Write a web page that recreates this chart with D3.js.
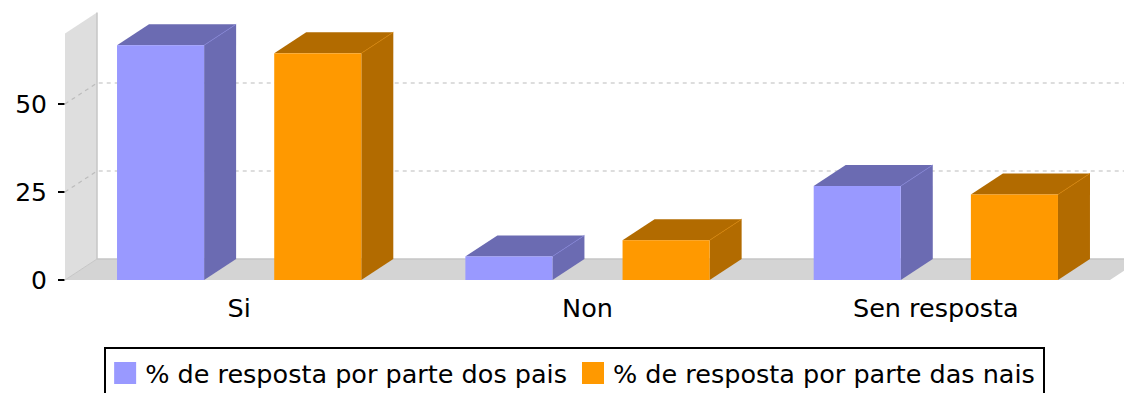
<!DOCTYPE html>
<html>
<head>
<meta charset="utf-8">
<script src="https://cdn.jsdelivr.net/npm/d3@7"></script>
<style>
  html, body { margin: 0; padding: 0; background: #ffffff; }
  svg { display: block; }
  text { font-family: "DejaVu Sans", "Liberation Sans", sans-serif; fill: #000; }
</style>
</head>
<body>
<svg id="chart" width="1124" height="393"></svg>
<script>
// Survey answers, percentage per category
const categories = ["Si", "Non", "Sen resposta"];
const seriesNames = ["% de resposta por parte dos pais", "% de resposta por parte das nais"];
const paisValues = [66.7, 6.7, 26.7];
const naisValues = [64.4, 11.3, 24.3];
const yTicks = [0, 25, 50];

const frontColors = ["#9999ff", "#ff9900"];
const sideColors = ["#6b6bb2", "#b26b00"];

const W = 1124, H = 393;
const depthX = 32, depthY = 21;          // 3D extrusion offset
const plot = { left: 65, right: 1110, top: 33.6, bottom: 280 };

const svg = d3.select("#chart");

const x0 = d3.scaleBand().domain(categories).range([plot.left, plot.right]).padding(0);
const x1 = d3.scaleBand().domain(d3.range(seriesNames.length))
  .range([0, x0.bandwidth()]).paddingInner(0.446).paddingOuter(0.331);
const y = d3.scaleLinear().domain([0, 70]).range([plot.bottom, plot.top]);

const series = [paisValues, naisValues];

// Left wall
svg.append("polygon")
  .attr("points", [[plot.left, plot.top], [plot.left + depthX, plot.top - depthY],
                   [plot.left + depthX, plot.bottom - depthY], [plot.left, plot.bottom]].join(" "))
  .attr("fill", "#dedede");
// Floor
svg.append("polygon")
  .attr("points", [[plot.left, plot.bottom], [plot.left + depthX, plot.bottom - depthY],
                   [plot.right + depthX, plot.bottom - depthY], [plot.right, plot.bottom]].join(" "))
  .attr("fill", "#d4d4d4");
// Wall edges
svg.append("line")
  .attr("x1", plot.left + depthX).attr("x2", plot.left + depthX)
  .attr("y1", plot.top - depthY).attr("y2", plot.bottom - depthY)
  .attr("stroke", "#c6c6c6").attr("stroke-width", 1.5);
svg.append("line")
  .attr("x1", plot.left + depthX).attr("x2", plot.right + depthX)
  .attr("y1", plot.bottom - depthY).attr("y2", plot.bottom - depthY)
  .attr("stroke", "#c6c6c6").attr("stroke-width", 1.5);
svg.append("line")
  .attr("x1", plot.left).attr("x2", plot.left + depthX)
  .attr("y1", plot.bottom).attr("y2", plot.bottom - depthY)
  .attr("stroke", "#c6c6c6").attr("stroke-width", 1);

// Gridlines: slanted across the left wall, then flat along the back plane
const grid = svg.append("g").attr("fill", "none")
  .attr("stroke", "#bcbcbc").attr("stroke-width", 1.2).attr("stroke-dasharray", "4,4");
yTicks.filter(t => t > 0).forEach(t => {
  grid.append("path")
    .attr("d", `M${plot.left},${y(t)}L${plot.left + depthX},${y(t) - depthY}L${plot.right + depthX},${y(t) - depthY}`);
});

// Bars
const bars = svg.append("g");
categories.forEach((c, i) => {
  series.forEach((vals, s) => {
    const v = vals[i];
    const bx = x0(c) + x1(s), bw = x1.bandwidth();
    const top = y(v), base = y(0);
    const g = bars.append("g");
    g.append("polygon")
      .attr("points", [[bx + bw, top], [bx + bw + depthX, top - depthY],
                       [bx + bw + depthX, base - depthY], [bx + bw, base]].join(" "))
      .attr("fill", sideColors[s]);
    g.append("polygon")
      .attr("points", [[bx, top], [bx + depthX, top - depthY],
                       [bx + bw + depthX, top - depthY], [bx + bw, top]].join(" "))
      .attr("fill", sideColors[s]);
    g.append("line")
      .attr("x1", bx + bw).attr("y1", top).attr("x2", bx + bw + depthX).attr("y2", top - depthY)
      .attr("stroke", d3.color(sideColors[s]).brighter(0.5)).attr("stroke-width", 0.8);
    g.append("rect")
      .attr("x", bx).attr("y", top).attr("width", bw).attr("height", base - top)
      .attr("fill", frontColors[s]);
  });
});

// Y axis ticks and labels
const yAxis = svg.append("g");
yTicks.forEach(t => {
  yAxis.append("line")
    .attr("x1", 58).attr("x2", 64.5).attr("y1", y(t)).attr("y2", y(t))
    .attr("stroke", "#000").attr("stroke-width", 2);
  yAxis.append("text")
    .attr("x", 47).attr("y", y(t)).attr("dy", "0.36em")
    .attr("text-anchor", "end").attr("font-size", 25)
    .text(t);
});

// Category labels
svg.append("g").selectAll("text").data(categories).join("text")
  .attr("x", d => x0(d) + x0.bandwidth() / 2)
  .attr("y", 317)
  .attr("text-anchor", "middle").attr("font-size", 25.5)
  .text(d => d);

// Legend
const legend = svg.append("g");
const items = legend.append("g");
let cx = 0;
seriesNames.forEach((name, s) => {
  items.append("rect").attr("x", cx).attr("y", 362).attr("width", 22).attr("height", 22)
    .attr("fill", frontColors[s]);
  const t = items.append("text").attr("x", cx + 31).attr("y", 382.5)
    .attr("font-size", 25.5).text(name);
  cx += 31 + t.node().getComputedTextLength() + 15;
});
const itemsWidth = cx - 15;
const boxLeft = 105, boxRight = 1044;
items.attr("transform", `translate(${(boxLeft + boxRight) / 2 - itemsWidth / 2},0)`);
legend.insert("rect", ":first-child")
  .attr("x", boxLeft).attr("y", 348).attr("width", boxRight - boxLeft).attr("height", 60)
  .attr("fill", "#fff").attr("stroke", "#000").attr("stroke-width", 2);
</script>
</body>
</html>
